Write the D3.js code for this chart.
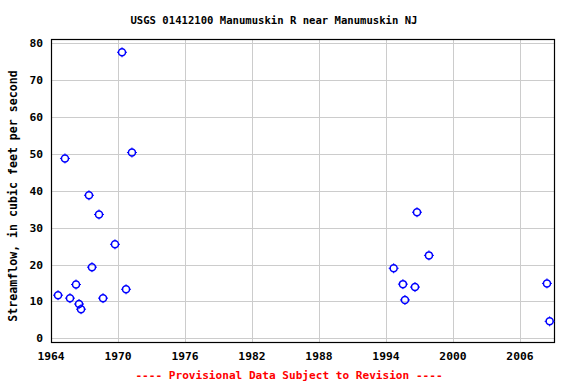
<!DOCTYPE html>
<html><head><meta charset="utf-8">
<script src="https://cdn.jsdelivr.net/npm/d3@7"></script>
<style>body{margin:0;background:#fff}svg{display:block}text{font-family:"DejaVu Sans Mono",monospace;font-weight:bold}</style>
</head><body>
<script>
const years = [1964.63,1965.25,1965.70,1966.24,1966.51,1966.69,1967.40,1967.67,1968.30,1968.66,1969.73,1970.36,1970.72,1971.25,1994.69,1995.52,1995.70,1996.60,1996.78,1997.85,2008.42,2008.66];
const flows = [11.7,48.8,10.9,14.6,9.3,7.9,38.8,19.3,33.6,10.9,25.5,77.6,13.3,50.4,19.0,14.7,10.4,13.9,34.2,22.5,14.9,4.6];
const xTicks = [1964,1970,1976,1982,1988,1994,2000,2006];
const yTicks = [0,10,20,30,40,50,60,70,80];
const title = "USGS 01412100 Manumuskin R near Manumuskin NJ";
const yLabel = "Streamflow, in cubic feet per second";
const footer = "---- Provisional Data Subject to Revision ----";

const W=576,H=384, L=51, R=554, T=39, B=342;
const svg=d3.select("body").append("svg").attr("width",W).attr("height",H);
const x=d3.scaleLinear().domain([1964,2009.05]).range([L,R]);
const y=d3.scaleLinear().domain([-1,81.2]).range([B,T]);

const g=svg.append("g");
g.selectAll(".gx").data(xTicks).enter().append("line")
 .attr("x1",d=>Math.round(x(d))+0.5).attr("x2",d=>Math.round(x(d))+0.5).attr("y1",T).attr("y2",B)
 .attr("stroke","#cccccc").attr("stroke-width",1);
g.selectAll(".gy").data(yTicks).enter().append("line")
 .attr("y1",d=>Math.round(y(d))+0.5).attr("y2",d=>Math.round(y(d))+0.5).attr("x1",L).attr("x2",R)
 .attr("stroke","#cccccc").attr("stroke-width",1);
svg.append("rect").attr("x",L+0.5).attr("y",T+0.5).attr("width",R-L).attr("height",B-T)
 .attr("fill","none").attr("stroke","#000").attr("stroke-width",1.2);

svg.selectAll(".xt").data(xTicks).enter().append("text")
 .attr("x",d=>x(d)).attr("y",360).attr("text-anchor","middle").attr("font-size","11.3px").text(d=>d);
svg.selectAll(".yt").data(yTicks).enter().append("text")
 .attr("x",43).attr("y",d=>y(d)+4).attr("text-anchor","end").attr("font-size","11.3px").text(d=>d);

svg.append("text").attr("x",274).attr("y",24).attr("text-anchor","middle").attr("font-size","10.6px").text(title);
svg.append("text").attr("transform","translate(17,196) rotate(-90)").attr("text-anchor","middle").attr("font-size","11.6px").text(yLabel);
svg.append("text").attr("x",289).attr("y",379).attr("text-anchor","middle").attr("font-size","11.1px").attr("fill","#ff0000").text(footer);

const pts=svg.append("g").selectAll("g").data(years.map((d,i)=>[d,flows[i]])).enter().append("g")
 .attr("transform",d=>`translate(${x(d[0])},${y(d[1])})`);
pts.append("circle").attr("r",3.5).attr("fill","none").attr("stroke","#0000ff").attr("stroke-width",1.5);
pts.append("path").attr("d","M0,-5V-3.5M0,3.5V5M-5,0H-3.5M3.5,0H5").attr("stroke","#0000ff").attr("stroke-width",1);
</script>
</body></html>
